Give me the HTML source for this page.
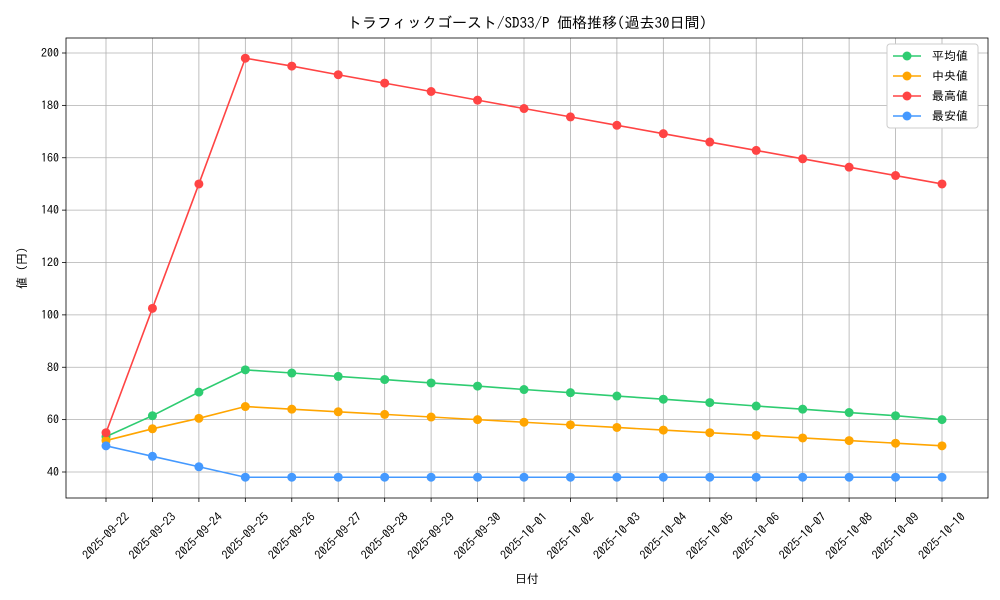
<!DOCTYPE html>
<html><head><meta charset="utf-8">
<style>
body{margin:0;background:#fff;}
svg{display:block;font-family:"IPAGothic","Liberation Sans","Noto Sans CJK JP",sans-serif;}
</style></head>
<body>
<svg id="chart" width="1000" height="600" viewBox="0 0 1000 600" xmlns="http://www.w3.org/2000/svg">
<rect width="1000" height="600" fill="#fff"/>
<text x="527" y="28" font-size="15" text-anchor="middle">トラフィックゴースト/SD33/P 価格推移(過去30日間)</text>
<g id="grid"></g>
<g id="axes"></g>
<g id="series"></g>
<text x="527" y="583" font-size="12" text-anchor="middle">日付</text>
<text transform="translate(26,268) rotate(-90)" font-size="12" text-anchor="middle">値 (円)</text>
<g id="legend"></g>
</svg>
<script>
const dates=["2025-09-22","2025-09-23","2025-09-24","2025-09-25","2025-09-26","2025-09-27","2025-09-28","2025-09-29","2025-09-30","2025-10-01","2025-10-02","2025-10-03","2025-10-04","2025-10-05","2025-10-06","2025-10-07","2025-10-08","2025-10-09","2025-10-10"];
const avgVals=[53.5,61.5,70.5,79,77.8,76.5,75.3,74,72.8,71.5,70.3,69,67.8,66.5,65.2,64,62.7,61.5,60];
const medVals=[52,56.5,60.5,65,64,63,62,61,60,59,58,57,56,55,54,53,52,51,50];
const maxVals=[55,102.5,150,198,195,191.7,188.5,185.3,182,178.8,175.6,172.4,169.2,166,162.8,159.6,156.4,153.2,150];
const minVals=[50,46,42,38,38,38,38,38,38,38,38,38,38,38,38,38,38,38,38];
const yTicks=[40,60,80,100,120,140,160,180,200];
const seriesNames=["平均値","中央値","最高値","最安値"];
const seriesColors=["#2ecc71","#ffa500","#ff4444","#4499ff"];

const NS="http://www.w3.org/2000/svg";
const L=66,R=988,T=38,B=498;
const x=i=>106+i*(942-106)/(dates.length-1);
const y=v=>472-(v-40)*(472-53)/160;
function mk(tag,attrs,parent){const e=document.createElementNS(NS,tag);for(const k in attrs)e.setAttribute(k,attrs[k]);parent.appendChild(e);return e;}
const grid=document.getElementById('grid'),axes=document.getElementById('axes'),ser=document.getElementById('series'),leg=document.getElementById('legend');
dates.forEach((d,i)=>{
 const g=mk('line',{x1:x(i),x2:x(i),y1:T,y2:B,stroke:'#b0b0b0','stroke-width':0.8},grid);
 
 
 const tk=mk('line',{x1:x(i),x2:x(i),y1:B,y2:B+4,stroke:'#000','stroke-width':0.8},axes);
 
 
 const t=mk('text',{x:0,y:4,'font-size':12,'text-anchor':'middle',transform:`translate(${x(i)},${B+38}) rotate(-45)`},axes);
 t.textContent=d;
 
 
});
yTicks.forEach(v=>{
 const g=mk('line',{x1:L,x2:R,y1:y(v),y2:y(v),stroke:'#b0b0b0','stroke-width':0.8},grid);
 
 
 const tk=mk('line',{x1:L-4,x2:L,y1:y(v),y2:y(v),stroke:'#000','stroke-width':0.8},axes);
 
 
 const t=mk('text',{x:L-7,y:y(v)+4,'font-size':12,'text-anchor':'end'},axes);
 t.textContent=v;
 
 
});
const frame=mk('rect',{x:L,y:T,width:R-L,height:B-T,fill:'none',stroke:'#000','stroke-width':0.8},axes);


[avgVals,medVals,maxVals,minVals].forEach((vals,s)=>{
 const p=mk('polyline',{points:vals.map((v,i)=>x(i)+','+y(v)).join(' '),fill:'none',stroke:seriesColors[s],'stroke-width':1.6},ser);
 
 
 vals.forEach((v,i)=>{
  const c=mk('circle',{cx:x(i),cy:y(v),r:4.5,fill:seriesColors[s]},ser);
  
  
 });
});
const box=mk('rect',{x:887,y:44,width:91,height:84,fill:'#fff',stroke:'#ccc','stroke-width':1,rx:3},leg);


seriesNames.forEach((n,s)=>{
 const yy=56+s*20;
 const g=mk('g',{},leg);
 
 
 mk('line',{x1:893,x2:921,y1:yy,y2:yy,stroke:seriesColors[s],'stroke-width':1.6},g);
 mk('circle',{cx:907,cy:yy,r:4.5,fill:seriesColors[s]},g);
 const t=mk('text',{x:932,y:yy+4,'font-size':12},g);
 t.textContent=n;
});
</script>
</body></html>
